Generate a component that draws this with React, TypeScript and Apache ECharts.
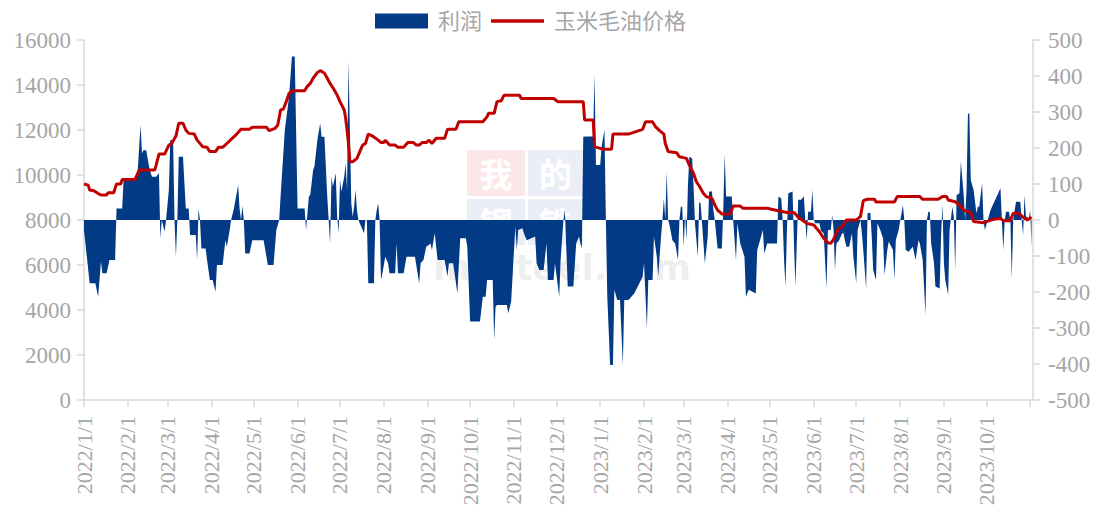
import { useEffect, useRef } from 'react';
import * as echarts from 'echarts';

// 玉米毛油价格 (left axis, yuan/ton)
const priceData: [string, number][] = [
  ['2022-01-01', 9600], ['2022-01-04', 9550], ['2022-01-05', 9330], ['2022-01-08', 9300], ['2022-01-11', 9180],
  ['2022-01-13', 9110], ['2022-01-17', 9110], ['2022-01-18', 9210], ['2022-01-22', 9210], ['2022-01-24', 9600],
  ['2022-01-27', 9600], ['2022-01-28', 9800], ['2022-02-06', 9800], ['2022-02-08', 10070], ['2022-02-09', 10220],
  ['2022-02-20', 10220], ['2022-02-21', 10440], ['2022-02-23', 10930], ['2022-02-27', 10930], ['2022-03-02', 11330],
  ['2022-03-04', 11400], ['2022-03-07', 11730], ['2022-03-09', 12300], ['2022-03-12', 12300], ['2022-03-14', 12000],
  ['2022-03-16', 11850], ['2022-03-20', 11820], ['2022-03-22', 11550], ['2022-03-26', 11260], ['2022-03-29', 11230],
  ['2022-03-31', 11040], ['2022-04-04', 11040], ['2022-04-06', 11230], ['2022-04-09', 11230], ['2022-04-12', 11400],
  ['2022-04-15', 11580], ['2022-04-19', 11820], ['2022-04-22', 12030], ['2022-04-28', 12030], ['2022-04-30', 12120],
  ['2022-05-10', 12120], ['2022-05-12', 11970], ['2022-05-16', 12070], ['2022-05-18', 12220], ['2022-05-20', 12890],
  ['2022-05-22', 12930], ['2022-05-24', 13260], ['2022-05-26', 13630], ['2022-05-29', 13750], ['2022-06-06', 13750],
  ['2022-06-08', 13950], ['2022-06-10', 14070], ['2022-06-12', 14300], ['2022-06-15', 14550], ['2022-06-17', 14640],
  ['2022-06-20', 14520], ['2022-06-22', 14300], ['2022-06-24', 14070], ['2022-06-27', 13780], ['2022-06-29', 13550],
  ['2022-07-01', 13260], ['2022-07-04', 12890], ['2022-07-05', 12520], ['2022-07-06', 12000], ['2022-07-07', 11400],
  ['2022-07-08', 10590], ['2022-07-10', 10590], ['2022-07-13', 10740], ['2022-07-15', 11040], ['2022-07-17', 11330],
  ['2022-07-19', 11400], ['2022-07-21', 11820], ['2022-07-24', 11730], ['2022-07-28', 11550], ['2022-07-30', 11440],
  ['2022-08-01', 11440], ['2022-08-02', 11550], ['2022-08-05', 11330], ['2022-08-09', 11330], ['2022-08-11', 11230],
  ['2022-08-15', 11230], ['2022-08-18', 11440], ['2022-08-22', 11440], ['2022-08-24', 11330], ['2022-08-26', 11330],
  ['2022-08-28', 11440], ['2022-08-31', 11440], ['2022-09-02', 11550], ['2022-09-04', 11400], ['2022-09-07', 11630],
  ['2022-09-13', 11630], ['2022-09-15', 12030], ['2022-09-21', 12030], ['2022-09-23', 12370], ['2022-10-10', 12370],
  ['2022-10-13', 12590], ['2022-10-14', 12740], ['2022-10-18', 12740], ['2022-10-20', 13260], ['2022-10-23', 13300],
  ['2022-10-25', 13550], ['2022-11-05', 13550], ['2022-11-06', 13400], ['2022-11-29', 13400], ['2022-12-02', 13260],
  ['2022-12-20', 13260], ['2022-12-21', 12440], ['2022-12-27', 12440], ['2022-12-28', 11260], ['2023-01-03', 11140],
  ['2023-01-09', 11140], ['2023-01-10', 11820], ['2023-01-21', 11820], ['2023-01-31', 12030], ['2023-02-02', 12370],
  ['2023-02-07', 12370], ['2023-02-09', 12150], ['2023-02-12', 11970], ['2023-02-15', 11820], ['2023-02-16', 11400],
  ['2023-02-18', 11040], ['2023-02-24', 10990], ['2023-02-26', 10810], ['2023-03-03', 10740], ['2023-03-05', 10440],
  ['2023-03-08', 10070], ['2023-03-10', 9700], ['2023-03-12', 9510], ['2023-03-15', 9180], ['2023-03-17', 9040],
  ['2023-03-21', 8960], ['2023-03-23', 8670], ['2023-03-25', 8440], ['2023-03-28', 8270], ['2023-04-03', 8270],
  ['2023-04-05', 8620], ['2023-04-10', 8620], ['2023-04-12', 8520], ['2023-04-29', 8520], ['2023-05-06', 8420],
  ['2023-05-13', 8330], ['2023-05-18', 8330], ['2023-05-21', 8120], ['2023-05-27', 7850], ['2023-06-01', 7780],
  ['2023-06-05', 7480], ['2023-06-08', 7190], ['2023-06-11', 6990], ['2023-06-13', 6960], ['2023-06-15', 7140],
  ['2023-06-18', 7560], ['2023-06-21', 7700], ['2023-06-24', 8000], ['2023-07-01', 8000], ['2023-07-04', 8150],
  ['2023-07-06', 8860], ['2023-07-09', 8920], ['2023-07-14', 8920], ['2023-07-15', 8800], ['2023-07-28', 8800],
  ['2023-07-30', 9040], ['2023-08-15', 9040], ['2023-08-17', 8920], ['2023-08-28', 8920], ['2023-08-31', 9040],
  ['2023-09-03', 9040], ['2023-09-04', 8890], ['2023-09-09', 8810], ['2023-09-12', 8670], ['2023-09-15', 8440],
  ['2023-09-20', 8330], ['2023-09-22', 7930], ['2023-09-29', 7880], ['2023-10-06', 8030], ['2023-10-11', 8070],
  ['2023-10-13', 7970], ['2023-10-18', 7970], ['2023-10-20', 8300], ['2023-10-24', 8300], ['2023-10-27', 8120],
  ['2023-10-30', 8000], ['2023-11-02', 8120],
];

// 利润 (right axis)
const profitData: [string, number][] = [
  ['2022-01-01', -30], ['2022-01-02', -65], ['2022-01-05', -176], ['2022-01-09', -176], ['2022-01-11', -213],
  ['2022-01-13', -116], ['2022-01-14', -148], ['2022-01-17', -148], ['2022-01-19', -111], ['2022-01-23', -111],
  ['2022-01-24', 32], ['2022-01-28', 32], ['2022-01-29', 111], ['2022-02-06', 111], ['2022-02-08', 139],
  ['2022-02-10', 264], ['2022-02-11', 185], ['2022-02-12', 194], ['2022-02-14', 194], ['2022-02-16', 148],
  ['2022-02-18', 120], ['2022-02-21', 120], ['2022-02-23', 130], ['2022-02-24', -51], ['2022-02-25', 0],
  ['2022-02-27', -32], ['2022-02-28', 0], ['2022-03-02', 83], ['2022-03-03', 222], ['2022-03-05', 222],
  ['2022-03-06', 0], ['2022-03-07', -102], ['2022-03-08', 0], ['2022-03-09', 176], ['2022-03-12', 176],
  ['2022-03-13', 102], ['2022-03-14', 32], ['2022-03-16', 32], ['2022-03-17', -42], ['2022-03-21', -42],
  ['2022-03-22', -111], ['2022-03-23', 32], ['2022-03-24', 0], ['2022-03-25', -79], ['2022-03-28', -79],
  ['2022-03-29', -111], ['2022-03-31', -167], ['2022-04-02', -167], ['2022-04-04', -199], ['2022-04-05', -125],
  ['2022-04-09', -125], ['2022-04-11', -56], ['2022-04-12', -74], ['2022-04-14', -28], ['2022-04-15', 0],
  ['2022-04-17', 32], ['2022-04-20', 97], ['2022-04-21', 32], ['2022-04-22', 0], ['2022-04-23', 39],
  ['2022-04-24', 0], ['2022-04-25', -93], ['2022-04-28', -93], ['2022-04-30', -56], ['2022-05-08', -56],
  ['2022-05-11', -125], ['2022-05-15', -125], ['2022-05-17', -28], ['2022-05-19', 0], ['2022-05-20', 65],
  ['2022-05-23', 250], ['2022-05-26', 343], ['2022-05-28', 454], ['2022-05-30', 454], ['2022-06-01', 32],
  ['2022-06-06', 32], ['2022-06-07', -28], ['2022-06-09', 65], ['2022-06-10', 70], ['2022-06-12', 139],
  ['2022-06-13', 150], ['2022-06-15', 222], ['2022-06-17', 268], ['2022-06-18', 231], ['2022-06-20', 231],
  ['2022-06-22', 65], ['2022-06-23', 0], ['2022-06-24', -65], ['2022-06-25', 120], ['2022-06-26', 93],
  ['2022-06-28', 130], ['2022-06-29', 9], ['2022-06-30', -37], ['2022-07-01', 111], ['2022-07-02', 79],
  ['2022-07-04', 120], ['2022-07-05', 157], ['2022-07-06', 83], ['2022-07-07', 440], ['2022-07-08', 250],
  ['2022-07-09', 46], ['2022-07-10', 9], ['2022-07-11', 37], ['2022-07-12', 83], ['2022-07-13', 28],
  ['2022-07-14', 0], ['2022-07-15', -9], ['2022-07-18', -37], ['2022-07-19', 0], ['2022-07-20', 0],
  ['2022-07-21', -176], ['2022-07-25', -176], ['2022-07-26', 0], ['2022-07-27', 28], ['2022-07-28', 46],
  ['2022-07-29', 0], ['2022-07-30', -167], ['2022-07-31', -148], ['2022-08-02', -102], ['2022-08-04', -120],
  ['2022-08-05', -148], ['2022-08-09', -148], ['2022-08-10', -65], ['2022-08-11', -148], ['2022-08-15', -148],
  ['2022-08-17', -102], ['2022-08-23', -102], ['2022-08-26', -176], ['2022-08-27', -120], ['2022-08-29', -111],
  ['2022-08-31', -74], ['2022-09-03', -65], ['2022-09-04', -83], ['2022-09-06', -37], ['2022-09-08', -111],
  ['2022-09-13', -111], ['2022-09-15', -157], ['2022-09-16', -120], ['2022-09-19', -120], ['2022-09-21', -176],
  ['2022-09-22', -204], ['2022-09-24', -51], ['2022-09-28', -51], ['2022-09-29', -74], ['2022-10-01', -282],
  ['2022-10-08', -282], ['2022-10-10', -213], ['2022-10-12', -213], ['2022-10-13', -167], ['2022-10-17', -167],
  ['2022-10-18', -333], ['2022-10-19', -241], ['2022-10-20', -236], ['2022-10-27', -236], ['2022-10-28', -259],
  ['2022-10-30', -227], ['2022-10-31', -157], ['2022-11-02', -18], ['2022-11-03', -83], ['2022-11-04', -28],
  ['2022-11-07', -23], ['2022-11-08', -37], ['2022-11-10', -56], ['2022-11-16', -46], ['2022-11-17', -120],
  ['2022-11-19', -139], ['2022-11-22', -139], ['2022-11-24', -65], ['2022-11-25', -167], ['2022-11-29', -167],
  ['2022-11-30', -120], ['2022-12-03', -213], ['2022-12-04', -111], ['2022-12-06', 0], ['2022-12-07', 28],
  ['2022-12-09', -185], ['2022-12-13', -185], ['2022-12-15', -65], ['2022-12-17', -46], ['2022-12-18', -65],
  ['2022-12-19', -79], ['2022-12-20', 231], ['2022-12-22', 232], ['2022-12-27', 232], ['2022-12-28', 404],
  ['2022-12-29', 153], ['2023-01-01', 153], ['2023-01-02', 204], ['2023-01-04', 250], ['2023-01-05', 0],
  ['2023-01-06', -213], ['2023-01-08', -403], ['2023-01-10', -403], ['2023-01-11', -194], ['2023-01-13', -222],
  ['2023-01-15', -222], ['2023-01-17', -403], ['2023-01-18', -222], ['2023-01-21', -222], ['2023-01-25', -204],
  ['2023-01-28', -181], ['2023-01-31', -157], ['2023-02-01', -120], ['2023-02-03', -301], ['2023-02-04', -167],
  ['2023-02-07', -167], ['2023-02-08', -46], ['2023-02-10', -102], ['2023-02-11', -157], ['2023-02-13', -46],
  ['2023-02-14', 0], ['2023-02-15', 60], ['2023-02-16', 0], ['2023-02-17', 134], ['2023-02-18', 0],
  ['2023-02-19', -14], ['2023-02-21', -56], ['2023-02-23', -65], ['2023-02-25', -111], ['2023-02-26', 0],
  ['2023-02-27', 37], ['2023-02-28', 37], ['2023-03-01', -74], ['2023-03-02', 14], ['2023-03-03', -56],
  ['2023-03-04', 93], ['2023-03-05', 176], ['2023-03-07', 171], ['2023-03-08', 93], ['2023-03-09', -9],
  ['2023-03-11', -102], ['2023-03-12', 51], ['2023-03-13', 46], ['2023-03-15', -65], ['2023-03-16', -120],
  ['2023-03-18', -46], ['2023-03-19', 79], ['2023-03-21', 79], ['2023-03-22', 28], ['2023-03-23', 0],
  ['2023-03-25', -79], ['2023-03-28', -79], ['2023-03-29', 28], ['2023-03-30', 181], ['2023-03-31', 65],
  ['2023-04-04', 65], ['2023-04-05', 0], ['2023-04-07', -111], ['2023-04-08', -9], ['2023-04-10', -65],
  ['2023-04-13', -102], ['2023-04-14', -213], ['2023-04-16', -194], ['2023-04-21', -204], ['2023-04-22', -83],
  ['2023-04-24', -56], ['2023-04-26', -28], ['2023-04-27', -93], ['2023-04-29', -65], ['2023-05-06', -65],
  ['2023-05-07', 65], ['2023-05-09', 60], ['2023-05-10', 0], ['2023-05-11', -111], ['2023-05-12', -185],
  ['2023-05-13', -28], ['2023-05-14', 74], ['2023-05-17', 79], ['2023-05-18', -65], ['2023-05-19', -185],
  ['2023-05-21', 56], ['2023-05-23', 56], ['2023-05-25', 65], ['2023-05-26', 0], ['2023-05-27', -56],
  ['2023-05-28', 23], ['2023-05-30', 23], ['2023-05-31', 83], ['2023-06-01', 0], ['2023-06-02', -9],
  ['2023-06-05', -9], ['2023-06-06', -30], ['2023-06-08', -37], ['2023-06-10', -190], ['2023-06-11', -28],
  ['2023-06-13', -28], ['2023-06-14', 14], ['2023-06-15', -28], ['2023-06-16', -139], ['2023-06-17', -65],
  ['2023-06-19', -56], ['2023-06-21', -37], ['2023-06-22', -37], ['2023-06-24', -74], ['2023-06-26', -74],
  ['2023-06-28', -37], ['2023-06-29', -102], ['2023-07-01', -176], ['2023-07-02', -28], ['2023-07-04', 0],
  ['2023-07-05', -37], ['2023-07-06', -83], ['2023-07-08', -190], ['2023-07-09', 19], ['2023-07-11', 20],
  ['2023-07-12', -46], ['2023-07-13', -139], ['2023-07-15', -167], ['2023-07-16', -9], ['2023-07-18', -28],
  ['2023-07-20', -51], ['2023-07-21', -153], ['2023-07-23', -83], ['2023-07-24', -60], ['2023-07-27', -83],
  ['2023-07-28', -167], ['2023-07-29', -56], ['2023-07-31', -28], ['2023-08-01', -5], ['2023-08-03', 42],
  ['2023-08-04', 0], ['2023-08-05', -83], ['2023-08-07', -88], ['2023-08-10', -74], ['2023-08-12', -111],
  ['2023-08-14', -56], ['2023-08-15', -65], ['2023-08-17', -111], ['2023-08-19', -264], ['2023-08-20', 0],
  ['2023-08-21', 23], ['2023-08-22', 23], ['2023-08-23', -65], ['2023-08-25', -120], ['2023-08-26', -185],
  ['2023-08-29', -190], ['2023-08-30', -46], ['2023-08-31', 46], ['2023-09-01', -120], ['2023-09-02', -167],
  ['2023-09-04', -208], ['2023-09-05', -28], ['2023-09-07', 37], ['2023-09-08', 9], ['2023-09-09', -139],
  ['2023-09-10', 69], ['2023-09-12', 74], ['2023-09-13', 162], ['2023-09-15', 69], ['2023-09-16', 0],
  ['2023-09-17', 83], ['2023-09-18', 296], ['2023-09-19', 296], ['2023-09-20', 111], ['2023-09-22', 83],
  ['2023-09-24', 19], ['2023-09-25', 37], ['2023-09-26', 37], ['2023-09-28', 102], ['2023-09-29', 0],
  ['2023-09-30', -28], ['2023-10-02', 0], ['2023-10-04', 28], ['2023-10-11', 88], ['2023-10-12', 0],
  ['2023-10-13', -83], ['2023-10-14', 0], ['2023-10-15', 23], ['2023-10-17', 23], ['2023-10-18', 0],
  ['2023-10-19', -162], ['2023-10-20', 0], ['2023-10-22', 51], ['2023-10-25', 51], ['2023-10-26', 0],
  ['2023-10-27', -42], ['2023-10-28', 69], ['2023-10-29', 9], ['2023-10-30', 9], ['2023-10-31', 0],
  ['2023-11-01', 28], ['2023-11-02', -74],
];

const seriesNames = ['利润', '玉米毛油价格'];
const watermarkChars = ['我', '的', '钢', '铁'];
const watermarkSite = 'mysteel.com';

const DAY = 86400000;
const BLUE = '#023a86';
const RED = '#c00000';
const LABEL = '#a6a6a6';
const AXIS = '#d9d9d9';
const SERIF = "'Liberation Serif', 'Times New Roman', serif";
const CJK = "'Liberation Serif', 'Noto Sans CJK SC', serif";
const LINE_ICON = 'path://M0,0L0,0M0,5.8L53,5.8L53,9.2L0,9.2ZM0,15L0,15';

export default function App() {
  const ref = useRef<HTMLDivElement>(null);

  useEffect(() => {
    if (!ref.current) return;
    const chart = echarts.init(ref.current, null, { renderer: 'svg' });

    const boxFills = ['rgba(225,60,60,0.12)', 'rgba(60,90,170,0.10)', 'rgba(60,90,170,0.10)', 'rgba(60,90,170,0.10)'];
    const boxes = [
      { x: 467, y: 150, w: 58, h: 46 },
      { x: 528, y: 150, w: 55, h: 46 },
      { x: 467, y: 199, w: 58, h: 46 },
      { x: 528, y: 199, w: 55, h: 46 },
    ];
    const watermark: any[] = [];
    boxes.forEach((b, i) => {
      watermark.push({
        type: 'rect', z: -10, silent: true,
        shape: { x: b.x, y: b.y, width: b.w, height: b.h },
        style: { fill: boxFills[i] },
      });
      watermark.push({
        type: 'text', z: -9, silent: true,
        x: b.x + b.w / 2, y: b.y + b.h / 2,
        style: {
          text: watermarkChars[i], fill: '#ffffff',
          font: "bold 33px 'Noto Sans CJK SC'", align: 'center', verticalAlign: 'middle',
        },
      });
    });
    watermark.push({
      type: 'text', z: -9, silent: true, x: 562, y: 267,
      style: {
        text: watermarkSite, fill: 'rgba(190,190,190,0.25)',
        font: "bold 36px 'DejaVu Sans'", align: 'center', verticalAlign: 'middle',
      },
    });

    const axisCommon = {
      axisLine: { show: true, lineStyle: { color: AXIS, width: 1.5 } },
      axisTick: { show: true, length: 7, lineStyle: { color: AXIS, width: 1.5 } },
      splitLine: { show: false },
    };

    chart.setOption({
      animation: false,
      backgroundColor: '#ffffff',
      graphic: watermark,
      legend: {
        left: 375,
        top: 10,
        padding: 0,
        itemWidth: 53,
        itemHeight: 15,
        itemGap: 9,
        textStyle: { color: LABEL, fontSize: 22, fontFamily: CJK, padding: [0, 0, 0, 5] },
        data: [
          { name: seriesNames[0], icon: 'rect' },
          { name: seriesNames[1], icon: LINE_ICON, itemStyle: { color: RED, borderWidth: 0 } },
        ],
      },
      grid: { left: 84, right: 68, top: 40, bottom: 121 },
      xAxis: {
        type: 'time',
        min: '2022-01-01',
        max: '2023-11-03',
        splitNumber: 22,
        minInterval: 28 * DAY,
        maxInterval: 31 * DAY,
        ...axisCommon,
        axisLabel: {
          rotate: 90,
          color: LABEL,
          fontSize: 22,
          fontFamily: SERIF,
          margin: 16,
          hideOverlap: false,
          formatter: (v: number) => {
            const d = new Date(v);
            if (d.getFullYear() === 2023 && d.getMonth() >= 10) return '';
            return `${d.getFullYear()}/${d.getMonth() + 1}/${d.getDate()}`;
          },
        },
      },
      yAxis: [
        {
          type: 'value',
          position: 'left',
          min: 0,
          max: 16000,
          interval: 2000,
          ...axisCommon,
          axisLabel: { color: LABEL, fontSize: 23, fontFamily: SERIF, margin: 13, formatter: (v: number) => String(v) },
        },
        {
          type: 'value',
          position: 'right',
          min: -500,
          max: 500,
          interval: 100,
          ...axisCommon,
          axisLabel: { color: LABEL, fontSize: 23, fontFamily: SERIF, margin: 15, formatter: (v: number) => String(v) },
        },
      ],
      series: [
        {
          name: seriesNames[0],
          type: 'line',
          yAxisIndex: 1,
          data: profitData,
          symbol: 'none',
          showSymbol: false,
          lineStyle: { width: 0, color: BLUE },
          itemStyle: { color: BLUE },
          areaStyle: { color: BLUE, opacity: 1 },
          z: 2,
        },
        {
          name: seriesNames[1],
          type: 'line',
          yAxisIndex: 0,
          data: priceData,
          symbol: 'none',
          showSymbol: false,
          lineStyle: { width: 3, color: RED },
          itemStyle: { color: RED },
          z: 3,
        },
      ],
    });
    return () => chart.dispose();
  }, []);

  return (
    <div
      ref={ref}
      style={{ position: 'fixed', left: 0, top: 0, width: 1101, height: 521, background: '#fff' }}
    />
  );
}
